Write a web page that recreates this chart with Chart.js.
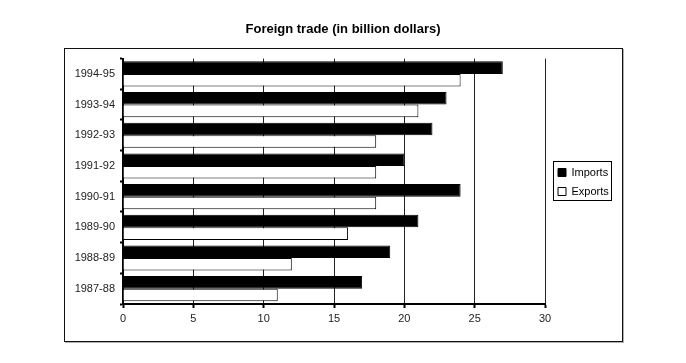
<!DOCTYPE html>
<html lang="en">
<head>
    <meta charset="UTF-8">
    <title>Foreign trade</title>
    <script src="https://cdn.jsdelivr.net/npm/chart.js"></script>
    <style>
        body { margin: 0; background: #fff; }
        #wrap { position: relative; width: 686px; height: 363px; }
        #frame {
            position: absolute; left: 64px; top: 48px;
            width: 559px; height: 294px; box-sizing: border-box;
            border: 1px solid #111; box-shadow: 1px 1px 0 #b0b0b0;
        }
        #tradeChart { position: absolute; left: 0; top: 0; }
    </style>
</head>
<body>
    <div id="wrap">
        <div id="frame"></div>
        <canvas id="tradeChart" width="686" height="363"></canvas>
    </div>
    <script>
        // years, listed top to bottom as in the picture
        const years = ['1994-95', '1993-94', '1992-93', '1991-92', '1990-91', '1989-90', '1988-89', '1987-88'];
        const imports = [27, 23, 22, 20, 24, 21, 19, 17];
        const exports = [24, 21, 18, 18, 18, 16, 12, 11];
        const xTicks = [0, 5, 10, 15, 20, 25, 30];

        const FONT = "'Liberation Sans', Arial, sans-serif";
        const LEGEND_W = 75;

        // legend: fixed width, nudged right/down, with a box round it
        const legendBox = {
            id: 'legendBox',
            beforeLayout(chart) {
                const lg = chart.legend;
                if (lg && !lg._patched) {
                    const fit = lg.fit;
                    lg.fit = function () { fit.call(this); this.width = LEGEND_W; };
                    lg._patched = true;
                }
            },
            afterLayout(chart) {
                const lg = chart.legend;
                lg.left += 5;
                lg.right += 5;
                lg.top += 20;
                lg.bottom += 20;
            },
            afterDraw(chart) {
                const boxes = chart.legend.legendHitBoxes;
                if (!boxes || !boxes.length) return;
                const ctx = chart.ctx;
                const left = Math.min(...boxes.map(b => b.left)) - 5;
                const right = Math.max(...boxes.map(b => b.left + b.width)) + 2;
                const top = boxes[0].top - 6;
                const bottom = boxes[boxes.length - 1].top + boxes[boxes.length - 1].height + 3;
                ctx.save();
                ctx.strokeStyle = '#000';
                ctx.lineWidth = 1;
                ctx.strokeRect(Math.round(left) + 0.5, Math.round(top) + 0.5, Math.round(right - left), Math.round(bottom - top));
                ctx.restore();
            }
        };

        new Chart(document.getElementById('tradeChart'), {
            type: 'bar',
            data: {
                labels: years,
                datasets: [{
                    label: 'Imports',
                    data: imports,
                    backgroundColor: '#000',
                    borderColor: '#000',
                    borderWidth: 1
                }, {
                    label: 'Exports',
                    data: exports,
                    backgroundColor: '#fff',
                    borderColor: '#000',
                    borderWidth: 1
                }]
            },
            options: {
                indexAxis: 'y',
                responsive: false,
                animation: false,
                categoryPercentage: 0.82,
                barPercentage: 1.0,
                layout: { padding: { left: 66, right: 66, top: 0, bottom: 39 } },
                scales: {
                    x: {
                        min: 0,
                        max: 30,
                        afterBuildTicks: (scale) => { scale.ticks = xTicks.map(v => ({ value: v })); },
                        afterFit: (scale) => { scale.height = 20; },
                        ticks: { color: '#222', padding: 4, font: { family: FONT, size: 11 } },
                        grid: { color: '#222', lineWidth: 1, tickLength: 4, tickWidth: 2, tickColor: '#000' },
                        border: { display: true, color: '#000', width: 2 }
                    },
                    y: {
                        afterFit: (scale) => { scale.width = 57; },
                        ticks: { color: '#222', padding: 5, font: { family: FONT, size: 11 } },
                        grid: { drawOnChartArea: false, tickLength: 3, tickWidth: 2, tickColor: '#000' },
                        border: { display: true, color: '#000', width: 2 }
                    }
                },
                plugins: {
                    title: {
                        display: true,
                        text: 'Foreign trade (in billion dollars)',
                        color: '#000',
                        font: { family: FONT, size: 13, weight: 'bold' },
                        padding: { top: 22, bottom: 21 }
                    },
                    legend: {
                        position: 'right',
                        labels: {
                            boxWidth: 8,
                            boxHeight: 8,
                            padding: 8,
                            color: '#000',
                            font: { family: FONT, size: 11 }
                        }
                    },
                    tooltip: { enabled: false }
                }
            },
            plugins: [legendBox]
        });
    </script>
</body>
</html>
